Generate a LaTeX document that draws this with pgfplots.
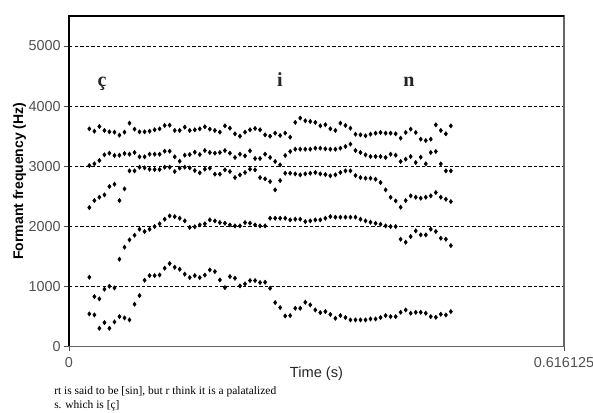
\documentclass[border=0pt]{standalone}
\usepackage{fontspec}
\setmainfont{Liberation Serif}
\setsansfont{Liberation Sans}
\usepackage{pgfplots}
\usepackage{pgfplotstable}
\pgfplotsset{compat=1.18}

\pgfplotstableread{
t F1 F2 F3 F4 F5
0.0253 539 1150 2310 3010 3621
0.0316 522 827 2427 3038 3582
0.0378 300 789 2482 3093 3660
0.0441 394 950 2521 3188 3594
0.0503 300 1000 2660 3216 3571
0.0566 405 972 2699 3177 3566
0.0628 494 1450 2427 3182 3516
0.0691 472 1650 2621 3210 3566
0.0753 439 1772 2921 3199 3716
0.0816 700 1850 2921 3227 3616
0.0878 844 1950 2982 3155 3571
0.0941 1100 1911 2971 3155 3571
0.1003 1177 1950 2949 3199 3582
0.1066 1177 1994 2944 3199 3605
0.1128 1188 2040 2944 3199 3621
0.1191 1300 2116 2982 3249 3677
0.1253 1378 2171 2982 3249 3682
0.1316 1316 2160 2910 3155 3594
0.1378 1283 2132 2966 3082 3594
0.1441 1200 2088 2982 3182 3649
0.1503 1144 1980 2971 3193 3594
0.1566 1177 1990 2927 3232 3605
0.1628 1144 2021 2888 3193 3621
0.1691 1185 2040 2949 3260 3655
0.1753 1272 2105 2966 3227 3616
0.1816 1244 2088 2866 3216 3594
0.1878 1105 2060 2866 3227 3566
0.1941 977 2049 2938 3260 3671
0.2003 1161 2021 2910 3216 3632
0.2066 1133 2005 2810 3144 3538
0.2128 1005 2005 2855 3199 3499
0.2191 1039 2060 2894 3171 3566
0.2253 1094 2049 2949 3255 3605
0.2316 1094 2021 2938 3127 3627
0.2378 1061 2005 2810 3127 3605
0.2441 1066 2005 2788 3199 3521
0.2503 966 2132 2743 3144 3499
0.2566 727 2132 2605 3077 3549
0.2628 644 2132 2760 3021 3510
0.2691 505 2132 2882 3177 3550
0.2753 511 2105 2882 3244 3482
0.2816 633 2116 2871 3282 3728
0.2878 633 2116 2855 3282 3800
0.2941 733 2077 2871 3282 3755
0.3003 689 2088 2882 3282 3744
0.3066 605 2105 2894 3299 3728
0.3128 561 2105 2871 3299 3672
0.3191 578 2132 2860 3288 3690
0.3253 530 2160 2838 3282 3621
0.3316 466 2150 2855 3282 3594
0.3378 511 2150 2894 3299 3716
0.3441 478 2150 2921 3327 3677
0.3503 439 2150 2921 3366 3632
0.3566 439 2150 2844 3260 3532
0.3628 439 2116 2810 3227 3521
0.3691 439 2088 2799 3188 3505
0.3753 455 2066 2799 3160 3532
0.3816 455 2049 2782 3160 3549
0.3878 478 2033 2727 3160 3560
0.3941 511 2005 2605 3144 3549
0.4003 494 1994 2482 3199 3549
0.4066 494 1994 2421 3182 3538
0.4128 566 1783 2316 3077 3466
0.4191 605 1733 2427 3116 3560
0.4253 550 1827 2505 3160 3616
0.4316 566 1922 2482 3060 3560
0.4378 566 1855 2466 3149 3449
0.4441 550 1855 2482 3038 3427
0.4503 494 1950 2505 3227 3449
0.4566 483 1911 2560 3244 3688
0.4628 533 1800 2482 3038 3594
0.4691 522 1783 2449 2921 3538
0.4753 578 1677 2410 2921 3671
}\formants

\begin{document}
\begin{tikzpicture}
\path[use as bounding box, fill=white] (-51.75pt,-49.3pt) rectangle (393pt,259.7pt);
\begin{axis}[
  scale only axis,
  width=371.25pt, height=247.7pt,
  xmin=0, xmax=0.616125, ymin=0, ymax=5500,
  clip=false,
  ytick={0,1000,2000,3000,4000,5000},
  xtick={0,0.616125}, xticklabels={0,0.616125},
  /pgf/number format/assume math mode=true,
  scaled y ticks=false,
  yticklabel={\pgfmathprintnumber[fixed,precision=0,1000 sep={}]{\tick}},
  ymajorgrids,
  grid style={black, line width=0.55pt, dash pattern=on 2.6pt off 1.6pt},
  tick align=outside, tick pos=left,
  major tick length=3.75pt,
  every tick/.style={black!70, line width=0.7pt},
  axis line style={draw=black!60, line width=0.9pt},
  ticklabel style={font=\sffamily\fontsize{10.8}{12}\selectfont, text=black!68},
  yticklabel style={xshift=1pt},
  xticklabel style={yshift=-1pt},
  xlabel={Time (s)},
  ylabel={Formant frequency (Hz)},
  xlabel style={font=\sffamily\fontsize{11}{13}\selectfont, text=black!85, at={(axis description cs:0.5,-0.082)}, anchor=center},
  ylabel style={font=\sffamily\bfseries\fontsize{10.5}{12}\selectfont, at={(axis description cs:-0.1,0.5)}, anchor=center},
]
\pgfplotsinvokeforeach{F1,F2,F3,F4,F5}{
  \addplot[only marks, mark=diamond*, mark size=1.6pt, black] table[x=t, y=#1] {\formants};
}
\draw[black, line width=0.9pt] (rel axis cs:0,0) -- (rel axis cs:0,1) -- (rel axis cs:1,1);
\node[font=\bfseries\fontsize{15}{18}\selectfont, text=black!85, anchor=base] at (axis cs:0.0411,4322) {ç};
\node[font=\bfseries\fontsize{15}{18}\selectfont, text=black!85, anchor=base] at (axis cs:0.2626,4322) {i};
\node[font=\bfseries\fontsize{15}{18}\selectfont, text=black!85, anchor=base] at (axis cs:0.4232,4322) {n};
\end{axis}
\node[anchor=base west, inner sep=0, font=\fontsize{8.6}{10}\selectfont] at (-11.25pt,-36.5pt) {rt is said to be [sin], but r think it is a palatalized};
\node[anchor=base west, inner sep=0, font=\fontsize{8.6}{10}\selectfont] at (-11.25pt,-46.3pt) {s. which is [ç]};
\end{tikzpicture}
\end{document}
